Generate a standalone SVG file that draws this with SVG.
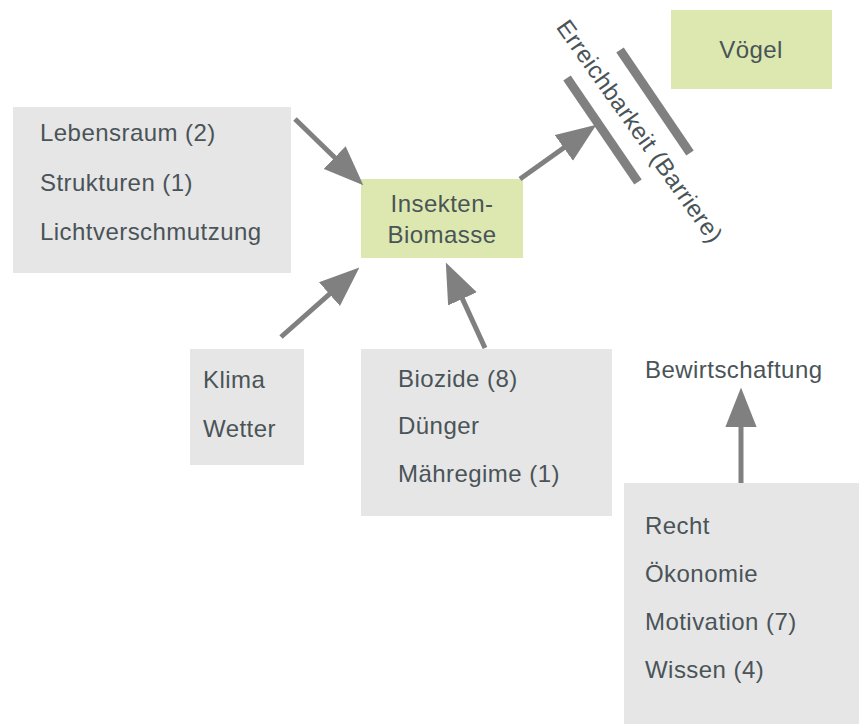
<svg xmlns="http://www.w3.org/2000/svg" width="865" height="724" viewBox="0 0 865 724">
<style>
  .box{fill:#e6e6e6}
  .grn{fill:#dce8af}
  .t{font-family:"Liberation Sans",Arial,sans-serif;font-size:24px;letter-spacing:0.45px;fill:#4a5458}
  .c{text-anchor:middle}
  .ln{stroke:#808080;stroke-width:5;fill:none}
  .bar{stroke:#808080;stroke-width:9;fill:none}
</style>
<defs>
  <marker id="ah" markerUnits="userSpaceOnUse" markerWidth="40" markerHeight="32" viewBox="0 0 38 30" refX="28" refY="15" orient="auto">
    <path d="M0,0 L38,15 L0,30 z" fill="#808080"/>
  </marker>
</defs>
<rect width="865" height="724" fill="#ffffff"/>
<g id="umwelt">
  <rect class="box" x="13" y="107" width="278" height="166"/>
  <text class="t" x="40" y="141">Lebensraum (2)</text>
  <text class="t" x="40" y="191">Strukturen (1)</text>
  <text class="t" x="40" y="240">Lichtverschmutzung</text>
</g>
<g id="insekten">
  <rect class="grn" x="361" y="179" width="162" height="79"/>
  <text class="t c" x="442" y="212">Insekten-</text>
  <text class="t c" x="442" y="243">Biomasse</text>
</g>
<g id="voegel">
  <rect class="grn" x="671" y="10" width="161" height="79"/>
  <text class="t c" x="751" y="58">Vögel</text>
</g>
<g id="klima">
  <rect class="box" x="190" y="349" width="114" height="116"/>
  <text class="t" x="203" y="388">Klima</text>
  <text class="t" x="203" y="437">Wetter</text>
</g>
<g id="biozide">
  <rect class="box" x="361" y="349" width="251" height="167"/>
  <text class="t" x="398" y="387">Biozide (8)</text>
  <text class="t" x="398" y="434">Dünger</text>
  <text class="t" x="398" y="482">Mähregime (1)</text>
</g>
<g id="bewirtschaftung">
  <text class="t" x="645" y="378">Bewirtschaftung</text>
</g>
<g id="recht">
  <rect class="box" x="624" y="483" width="235" height="241"/>
  <text class="t" x="645" y="534">Recht</text>
  <text class="t" x="645" y="582">Ökonomie</text>
  <text class="t" x="645" y="630">Motivation (7)</text>
  <text class="t" x="645" y="678">Wissen (4)</text>
</g>
<g id="barriere">
  <line class="bar" x1="567" y1="78" x2="638" y2="182"/>
  <line class="bar" x1="620" y1="50" x2="690" y2="153"/>
  <text class="t c" x="633" y="136" transform="rotate(54.5 633 136)">Erreichbarkeit (Barriere)</text>
</g>
<g id="connectors">
  <line class="ln" x1="295" y1="119" x2="355.8" y2="178" marker-end="url(#ah)"/>
  <line class="ln" x1="281" y1="337" x2="351.5" y2="274.6" marker-end="url(#ah)"/>
  <line class="ln" x1="485" y1="348" x2="450.2" y2="272.1" marker-end="url(#ah)"/>
  <line class="ln" x1="520" y1="179" x2="587.8" y2="130.8" marker-end="url(#ah)"/>
  <line class="ln" x1="741" y1="483" x2="741" y2="398" marker-end="url(#ah)"/>
</g>
</svg>
